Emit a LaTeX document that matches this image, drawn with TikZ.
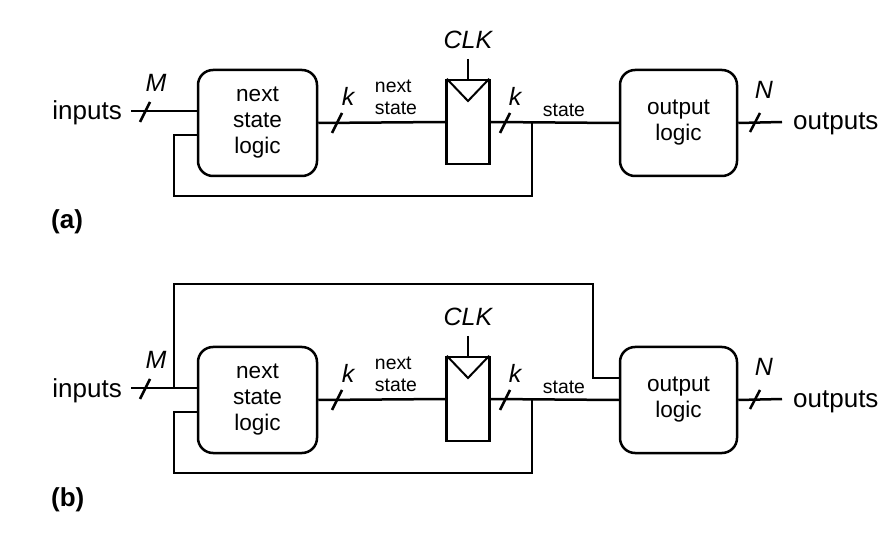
\documentclass[tikz,border=0pt]{standalone}
\usepackage{fontspec}
\setmainfont{Liberation Sans}
\begin{document}
\begin{tikzpicture}[x=1pt,y=-1pt,
  wire/.style={line width=2.5pt},
  blockbox/.style={draw,line width=2.5pt,rounded corners=15pt,inner sep=0pt,align=center,font=\fontsize{22.6}{26}\selectfont},
  regbox/.style={draw,line width=2.5pt,inner sep=0pt,minimum width=43pt,minimum height=84pt},
  biglabel/.style={inner sep=0pt,font=\fontsize{26}{30}\selectfont},
  smalllabel/.style={inner sep=0pt,align=left,font=\fontsize{19.4}{22}\selectfont},
  varlabel/.style={inner sep=0pt,font=\fontsize{25}{28}\selectfont\itshape},
  partlabel/.style={inner sep=0pt,font=\fontsize{26}{30}\selectfont\bfseries},
  busmark/.style={line width=2.5pt}]
\useasboundingbox (0,0) rectangle (889,537);
\newcommand\fsmpart{%
  \node[blockbox,minimum width=119pt,minimum height=106pt] (nsl) at (257.5,123) {next\\state\\logic};
  \node[blockbox,minimum width=117pt,minimum height=106pt] (ol) at (678.5,123) {output\\logic};
  \node[regbox] (reg) at (468,122) {};
  \node[biglabel,anchor=base east] (inputs) at (122,120) {inputs};
  \node[biglabel,anchor=base west] (outputs) at (793,130) {outputs};
  \coordinate (inend) at (131,111);
  \coordinate (outend) at (782,122);
  \coordinate (clktop) at (468,59);
  \coordinate (junc) at (532,122);
  \node[varlabel] (clk) at (468,40) {CLK};
  \node[varlabel] (mlab) at (156,83) {M};
  \node[varlabel] (k1) at (348,96) {k};
  \node[varlabel] (k2) at (515,96) {k};
  \node[varlabel] (nlab) at (764,90) {N};
  \node[smalllabel] (nslab) at (396,97) {next\\state};
  \node[smalllabel] (stlab) at (564,110) {state};
  % wires
  \draw[wire] (inend) -- (nsl.west |- inend);
  \draw[wire] (nsl.east) -- (reg.west);
  \draw[wire] (reg.east) -- (ol.west);
  \draw[wire] (ol.east) -- (outend);
  \draw[wire] (clktop) -- (reg.north);
  \draw[wire] (junc) -- (532,196) -- (174,196) -- (174,135) -- (nsl.west |- 0,135);
  % clock triangle
  \draw[line width=2pt] ([xshift=1.5pt]reg.north west) -- (468,101) -- ([xshift=-1.5pt]reg.north east);
  % bus marks
  \draw[busmark] (140,122) -- (150,102);
  \draw[busmark] (332,133) -- (342,113);
  \draw[busmark] (500,133) -- (510,113);
  \draw[busmark] (750,132) -- (760,113);
}
\begin{scope}[name prefix=a-]
  \fsmpart
  \node[partlabel,anchor=base west] (alab) at (51,229) {(a)};
\end{scope}
\begin{scope}[yshift=-277pt,name prefix=b-]
  \fsmpart
  \node[partlabel,anchor=base west] (blab) at (51,229) {(b)};
  \draw[wire] (174,111) -- (174,7) -- (593,7) -- (593,101) -- (ol.west |- 0,101);
\end{scope}
\end{tikzpicture}
\end{document}
